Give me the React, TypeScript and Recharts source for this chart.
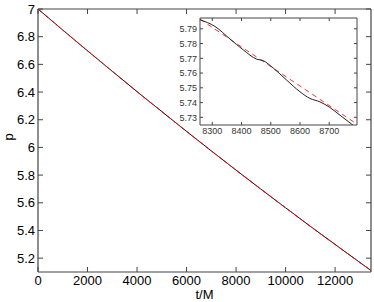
import React from "react";
import { LineChart, Line, XAxis, YAxis, CartesianGrid, Label } from "recharts";

// main panel: p(t) over the full run
const mainT = [0, 1000, 2000, 3000, 4000, 5000, 6000, 7000, 8000, 9000, 10000, 11000, 12000, 13000, 13450];
const mainP = [7.0, 6.848, 6.698, 6.55, 6.403, 6.259, 6.116, 5.975, 5.836, 5.699, 5.564, 5.43, 5.299, 5.169, 5.111];
// orbit-averaged curve sits on top of the full one at this scale
const mainMean = [7.0, 6.848, 6.698, 6.55, 6.403, 6.259, 6.116, 5.975, 5.836, 5.699, 5.564, 5.43, 5.299, 5.169, 5.111];
const mainXTicks = [0, 2000, 4000, 6000, 8000, 10000, 12000];
const mainYTicks = [5.2, 5.4, 5.6, 5.8, 6, 6.2, 6.4, 6.6, 6.8, 7];

// inset: zoom on 8260..8800
const insetT = [8258, 8309, 8361, 8406, 8452, 8474, 8509, 8554, 8600, 8634, 8668, 8702, 8737, 8782];
const insetP = [5.7961, 5.7916, 5.783, 5.7757, 5.7694, 5.7684, 5.7633, 5.7553, 5.7473, 5.7428, 5.7405, 5.7367, 5.7314, 5.7246];
const insetMeanT = [8258, 8795];
const insetMeanP = [5.7965, 5.7254];
const insetXTicks = [8300, 8400, 8500, 8600, 8700];
const insetYTicks = [5.73, 5.74, 5.75, 5.76, 5.77, 5.78, 5.79];

const mainRows = mainT.map((t, i) => ({ t, p: mainP[i], m: mainMean[i] }));
const insetRows = insetT.map((t, i) => ({ t, p: insetP[i] }));
const insetMeanRows = insetMeanT.map((t, i) => ({ t, p: insetMeanP[i] }));

const FONT = "'Liberation Sans', Arial, Helvetica, sans-serif";
const AXIS = "#444";

const fmtY = (v: number) => String(Number(v.toFixed(2)));

function makeTick(side: "bottom" | "top" | "left" | "right", len: number, fs: number, color: string, showText: boolean) {
  return (props: any) => {
    const { x, y, payload } = props;
    const label = fmtY(payload.value);
    if (side === "bottom") {
      return (
        <g>
          <line x1={x} y1={y} x2={x} y2={y - len} stroke={AXIS} strokeWidth={1} />
          {showText && (
            <text x={x} y={y + fs} textAnchor="middle" fontSize={fs} fontFamily={FONT} fill={color}>
              {label}
            </text>
          )}
        </g>
      );
    }
    if (side === "top") {
      return <line x1={x} y1={y} x2={x} y2={y + len} stroke={AXIS} strokeWidth={1} />;
    }
    if (side === "left") {
      return (
        <g>
          <line x1={x} y1={y} x2={x + len} y2={y} stroke={AXIS} strokeWidth={1} />
          {showText && (
            <text x={x - 3} y={y + fs * 0.36} textAnchor="end" fontSize={fs} fontFamily={FONT} fill={color}>
              {label}
            </text>
          )}
        </g>
      );
    }
    return <line x1={x} y1={y} x2={x - len} y2={y} stroke={AXIS} strokeWidth={1} />;
  };
}

export default function App() {
  return (
    <div style={{ position: "absolute", left: 0, top: 0, width: 374, height: 302, background: "#fff" }}>
      <LineChart width={374} height={302} data={mainRows} margin={{ top: 8, right: 2, bottom: 0, left: 0 }}>
        <XAxis
          dataKey="t"
          type="number"
          domain={[0, 13450]}
          ticks={mainXTicks}
          interval={0}
          height={30}
          tickSize={0}
          tickMargin={0}
          tickLine={false}
          axisLine={{ stroke: AXIS, strokeWidth: 1.2 }}
          tick={makeTick("bottom", 5, 13, "#000", true)}
          allowDataOverflow
        >
          <Label value="t/M" position="insideBottom" offset={3} fontSize={13} fontFamily={FONT} fill="#000" />
        </XAxis>
        <XAxis
          xAxisId="top"
          dataKey="t"
          orientation="top"
          type="number"
          domain={[0, 13450]}
          ticks={mainXTicks}
          interval={0}
          height={1}
          tickSize={0}
          tickMargin={0}
          tickLine={false}
          axisLine={{ stroke: AXIS, strokeWidth: 1.2 }}
          tick={makeTick("top", 5, 13, "#000", false)}
          allowDataOverflow
        />
        <YAxis
          type="number"
          domain={[5.1, 7]}
          ticks={mainYTicks}
          interval={0}
          width={38}
          tickSize={0}
          tickMargin={0}
          tickLine={false}
          axisLine={{ stroke: AXIS, strokeWidth: 1.2 }}
          tick={makeTick("left", 5, 13, "#000", true)}
          allowDataOverflow
        >
          <Label value="p" angle={-90} position="insideLeft" offset={8} fontSize={13} fontFamily={FONT} fill="#000" />
        </YAxis>
        <YAxis
          yAxisId="right"
          orientation="right"
          type="number"
          domain={[5.1, 7]}
          ticks={mainYTicks}
          interval={0}
          width={1}
          tickSize={0}
          tickMargin={0}
          tickLine={false}
          axisLine={{ stroke: AXIS, strokeWidth: 1.2 }}
          tick={makeTick("right", 5, 13, "#000", false)}
          allowDataOverflow
        />
        {/* invisible carrier so the top/right frame axes get registered */}
        <Line
          xAxisId="top"
          yAxisId="right"
          dataKey="p"
          stroke="none"
          dot={false}
          activeDot={false}
          isAnimationActive={false}
        />
        <Line type="monotone" dataKey="p" stroke="#111" strokeWidth={1} dot={false} isAnimationActive={false} />
        <Line
          type="monotone"
          dataKey="m"
          stroke="#ff0000"
          strokeWidth={1}
          strokeDasharray="5 3"
          dot={false}
          isAnimationActive={false}
        />
      </LineChart>

      <div style={{ position: "absolute", left: 160, top: 10 }}>
        <LineChart width={205} height={140} margin={{ top: 7, right: 7, bottom: 0, left: 0 }}>
          <CartesianGrid fill="#fff" horizontal={false} vertical={false} />
          <XAxis
            dataKey="t"
            type="number"
            domain={[8258, 8795]}
            ticks={insetXTicks}
            interval={0}
            height={25}
            tickSize={0}
            tickMargin={0}
            tickLine={false}
            axisLine={{ stroke: AXIS, strokeWidth: 1 }}
            tick={makeTick("bottom", 3, 9, "#333", true)}
            allowDataOverflow
          />
          <XAxis
            xAxisId="top"
            dataKey="t"
            orientation="top"
            type="number"
            domain={[8258, 8795]}
            ticks={insetXTicks}
            interval={0}
            height={1}
            tickSize={0}
            tickMargin={0}
            tickLine={false}
            axisLine={{ stroke: AXIS, strokeWidth: 1 }}
            tick={makeTick("top", 3, 9, "#333", false)}
            allowDataOverflow
          />
          <YAxis
            type="number"
            domain={[5.7248, 5.7973]}
            ticks={insetYTicks}
            interval={0}
            width={40}
            tickSize={0}
            tickMargin={0}
            tickLine={false}
            axisLine={{ stroke: AXIS, strokeWidth: 1 }}
            tick={makeTick("left", 3, 9, "#333", true)}
            allowDataOverflow
          />
          <YAxis
            yAxisId="right"
            orientation="right"
            type="number"
            domain={[5.7248, 5.7973]}
            ticks={insetYTicks}
            interval={0}
            width={1}
            tickSize={0}
            tickMargin={0}
            tickLine={false}
            axisLine={{ stroke: AXIS, strokeWidth: 1 }}
            tick={makeTick("right", 3, 9, "#333", false)}
            allowDataOverflow
          />
          <Line
            data={insetRows}
            xAxisId="top"
            yAxisId="right"
            dataKey="p"
            stroke="none"
            dot={false}
            activeDot={false}
            isAnimationActive={false}
          />
          <Line
            data={insetMeanRows}
            type="linear"
            dataKey="p"
            stroke="#ff3030"
            strokeWidth={1}
            strokeDasharray="5 4"
            dot={false}
            isAnimationActive={false}
          />
          <Line
            data={insetRows}
            type="monotone"
            dataKey="p"
            stroke="#222"
            strokeWidth={1}
            dot={false}
            isAnimationActive={false}
          />
        </LineChart>
      </div>
    </div>
  );
}
